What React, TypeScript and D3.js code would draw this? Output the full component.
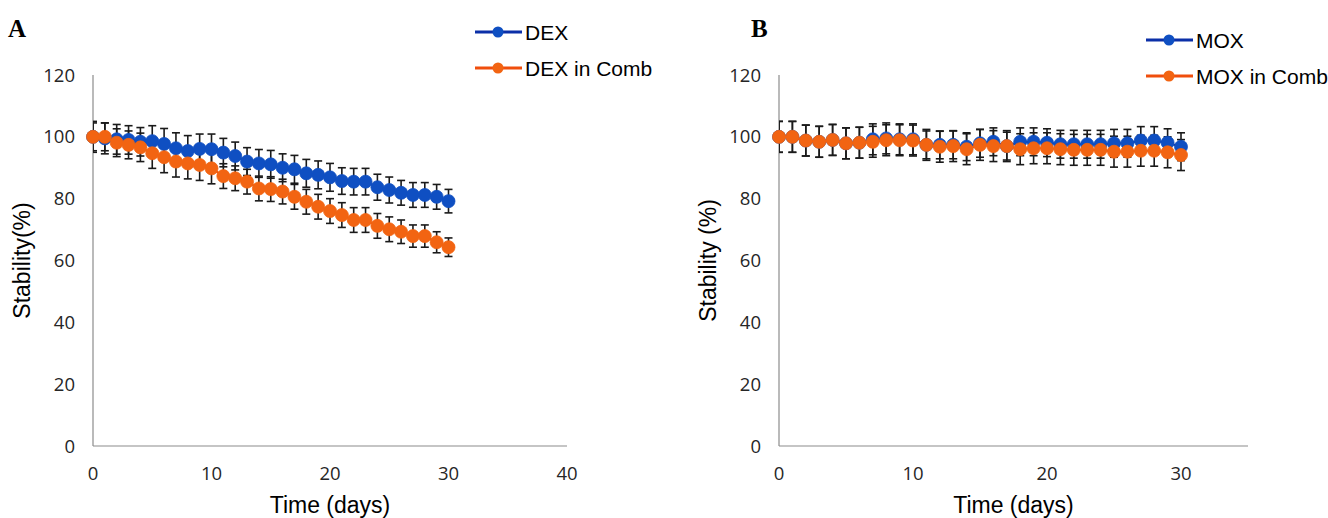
import React from 'react';
import * as d3 from 'd3';

// days of sampling
const days = [0, 1, 2, 3, 4, 5, 6, 7, 8, 9, 10, 11, 12, 13, 14, 15, 16, 17, 18, 19, 20, 21, 22, 23, 24, 25, 26, 27, 28, 29, 30];

// panel A
const dex = [100, 99.5, 99.2, 99, 98.4, 98.6, 97.7, 96.3, 95.4, 96.1, 96, 94.9, 93.8, 92, 91.4, 91.1, 90, 89.5, 88.2, 87.7, 86.9, 85.7, 85.5, 85.5, 83.7, 82.8, 81.9, 81.2, 81.2, 80.6, 79.2];
const dexErr = [5, 5, 4.8, 4.6, 4.6, 5, 5, 5, 5, 4.8, 4.9, 4.6, 4.5, 4.5, 4.5, 4.5, 4.5, 4.5, 4.5, 4.5, 4.5, 4.3, 4.3, 4.3, 4.2, 4.2, 4, 4, 4, 4, 3.8];
const dexComb = [100, 100, 98.1, 97.4, 96.6, 94.7, 93.4, 92, 91.4, 90.9, 89.8, 87.3, 86.6, 85.5, 83.3, 83.1, 82.3, 80.6, 79, 77.4, 76, 74.7, 73.1, 73.1, 71.2, 70.1, 69.3, 67.9, 67.9, 65.9, 64.3];
const dexCombErr = [4.5, 4.5, 4.5, 4.5, 4.6, 4.9, 5, 5, 5, 5, 5, 4, 4, 4, 4, 4, 4, 4, 4, 4, 4, 4, 4, 4, 4, 4, 3.8, 3.6, 3.6, 3.4, 3];

// panel B
const mox = [100, 100, 98.8, 98.4, 99, 97.9, 98.1, 99.2, 99.5, 99.2, 99.2, 97.4, 97.4, 97.4, 96.8, 97.9, 98.4, 97, 98.4, 98.4, 98.1, 97.6, 97.6, 97.6, 97.6, 97.9, 97.9, 98.8, 98.8, 98.1, 96.8];
const moxErr = [5, 5, 5, 5, 5, 5, 5, 5, 5, 5, 5, 4.5, 4.5, 4.5, 4.5, 4.5, 4.5, 4.5, 4.5, 4.5, 4.5, 4.5, 4.5, 4.5, 4.5, 4.5, 4.5, 4.5, 4.5, 4.5, 4.5];
const moxComb = [100, 100, 98.8, 98.4, 99, 97.9, 98.1, 98.4, 98.9, 98.9, 98.8, 97.4, 96.8, 97, 96, 97.4, 97, 97, 96, 96.3, 96.3, 96, 95.8, 95.8, 95.8, 95.2, 95.2, 95.5, 95.5, 95, 94.1];
const moxCombErr = [5, 5, 5, 5, 5, 5, 5, 5, 5, 5, 5, 5, 5, 5, 5, 5, 5, 5, 5, 5, 5, 5, 5, 5, 5, 5, 5, 5, 5, 5, 5];

const yTicks = [0, 20, 40, 60, 80, 100, 120];
const xTicks = [0, 10, 20, 30, 40];

const BLUE_LINE = '#0b2fa8';
const BLUE_DOT = '#0f4fc2';
const ORANGE_LINE = '#f04e0c';
const ORANGE_DOT = '#f26412';

type Series = { name: string; values: number[]; err: number[]; line: string; dot: string };

type PanelProps = {
  id: string;
  letter: string;
  letterX: number;
  x0: number;
  x1: number;
  xMax: number;
  yLabel: string;
  yLabelX: number;
  xTickVals: number[];
  series: Series[];
  legendX: number;
  legendY: number;
};

const Panel = ({ id, letter, letterX, x0, x1, xMax, yLabel, yLabelX, xTickVals, series, legendX, legendY }: PanelProps) => {
  const top = 75;
  const bottom = 446;
  const x = d3.scaleLinear().domain([0, xMax]).range([x0, x1]);
  const y = d3.scaleLinear().domain([0, 120]).range([bottom, top]);
  const line = d3
    .line<number>()
    .x((_, i) => x(days[i]))
    .y((d) => y(d));
  const cap = 4;

  return (
    <g>
      <defs>
        <clipPath id={`clip-${id}`}>
          <rect x={x0} y={0} width={x1 - x0 + 20} height={bottom} />
        </clipPath>
      </defs>
      <text x={letterX} y={37} fontFamily="Liberation Serif, serif" fontWeight="bold" fontSize={25} fill="#000">
        {letter}
      </text>

      {/* axes */}
      <line x1={x0} x2={x0} y1={top} y2={bottom} stroke="#8c8c8c" strokeWidth={1.2} />
      <line x1={x0} x2={x1} y1={bottom} y2={bottom} stroke="#8c8c8c" strokeWidth={1.2} />
      {yTicks.map((t) => (
        <text key={t} x={x0 - 18} y={y(t) + 6.5} textAnchor="end" fontFamily="Open Sans" fontSize={18.5} fill="#262626">
          {t}
        </text>
      ))}
      {xTickVals.map((t) => (
        <text key={t} x={x(t)} y={bottom + 34} textAnchor="middle" fontFamily="Open Sans" fontSize={18.5} fill="#262626">
          {t}
        </text>
      ))}
      <text
        transform={`translate(${yLabelX},${(top + bottom) / 2}) rotate(-90)`}
        textAnchor="middle"
        fontFamily="Liberation Sans, Arial"
        fontSize={23}
        fill="#000"
      >
        {yLabel}
      </text>
      <text x={(x0 + x1) / 2} y={513} textAnchor="middle" fontFamily="Liberation Sans, Arial" fontSize={23} fill="#000">
        Time (days)
      </text>

      {/* error bars */}
      <g clipPath={`url(#clip-${id})`} stroke="#1a1a1a" strokeWidth={1.6}>
        {series.map((s) =>
          s.values.map((v, i) => {
            const cx = x(days[i]);
            const yt = y(v + s.err[i]);
            const yb = y(v - s.err[i]);
            return (
              <g key={`${s.name}-${i}`}>
                <line x1={cx} x2={cx} y1={yt} y2={yb} />
                <line x1={cx - cap} x2={cx + cap} y1={yt} y2={yt} />
                <line x1={cx - cap} x2={cx + cap} y1={yb} y2={yb} />
              </g>
            );
          })
        )}
      </g>

      {/* lines + markers */}
      {series.map((s) => (
        <g key={s.name}>
          <path d={line(s.values) || ''} fill="none" stroke={s.line} strokeWidth={2.2} />
          {s.values.map((v, i) => (
            <circle key={i} cx={x(days[i])} cy={y(v)} r={6.5} fill={s.dot} stroke={s.dot} strokeWidth={0.8} />
          ))}
        </g>
      ))}

      {/* legend */}
      {series.map((s, i) => {
        const ly = legendY + i * 36;
        return (
          <g key={`leg-${s.name}`}>
            <line x1={legendX} x2={legendX + 47} y1={ly} y2={ly} stroke={s.line} strokeWidth={3} />
            <circle cx={legendX + 23} cy={ly} r={5.5} fill={s.dot} />
            <text x={legendX + 50} y={ly + 7.5} fontFamily="Liberation Sans, Arial" fontSize={21} fill="#000">
              {s.name}
            </text>
          </g>
        );
      })}
    </g>
  );
};

export default function App() {
  const seriesA: Series[] = [
    { name: 'DEX', values: dex, err: dexErr, line: BLUE_LINE, dot: BLUE_DOT },
    { name: 'DEX in Comb', values: dexComb, err: dexCombErr, line: ORANGE_LINE, dot: ORANGE_DOT },
  ];
  const seriesB: Series[] = [
    { name: 'MOX', values: mox, err: moxErr, line: BLUE_LINE, dot: BLUE_DOT },
    { name: 'MOX in Comb', values: moxComb, err: moxCombErr, line: ORANGE_LINE, dot: ORANGE_DOT },
  ];
  return (
    <svg
      width={1328}
      height={518}
      style={{ position: 'absolute', left: 0, top: 0, background: '#fff' }}
    >
      <rect width={1328} height={518} fill="#fff" />
      <Panel
        id="a"
        letter="A"
        letterX={8}
        x0={93}
        x1={567}
        xMax={40}
        yLabel="Stability(%)"
        yLabelX={30}
        xTickVals={xTicks}
        series={seriesA}
        legendX={475}
        legendY={32}
      />
      <Panel
        id="b"
        letter="B"
        letterX={751}
        x0={779}
        x1={1248}
        xMax={35}
        yLabel="Stability (%)"
        yLabelX={716}
        xTickVals={xTicks.slice(0, 4)}
        series={seriesB}
        legendX={1146}
        legendY={40}
      />
    </svg>
  );
}
